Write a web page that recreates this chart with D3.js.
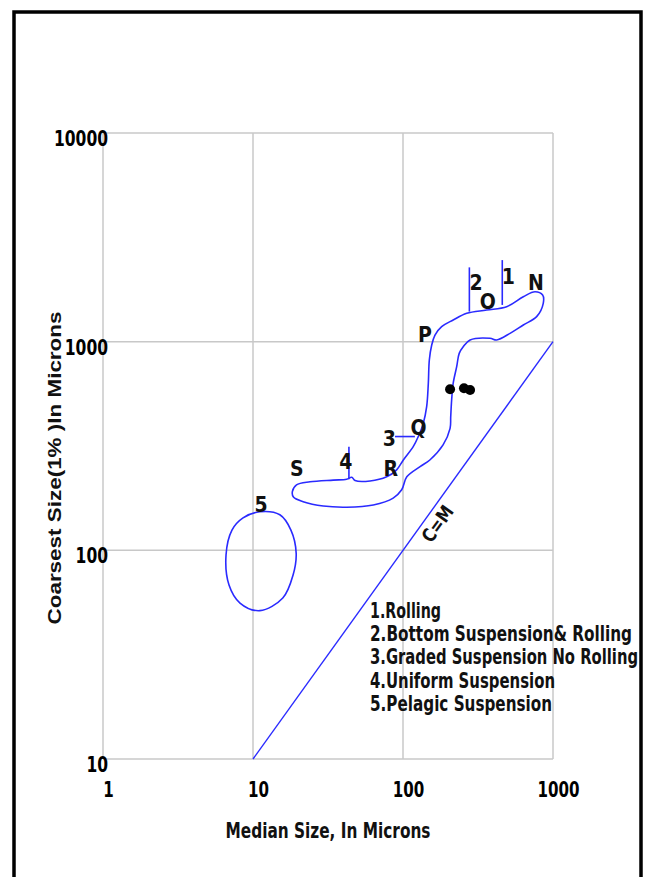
<!DOCTYPE html>
<html><head><meta charset="utf-8">
<script src="https://cdn.jsdelivr.net/npm/d3@7"></script>
<style>body{margin:0;background:#fff}svg{display:block}</style>
</head><body>
<svg id="c" width="650" height="877"></svg>
<script>
// ---- data ----
const xTicks = [1, 10, 100, 1000];
const yTicks = [10, 100, 1000, 10000];
const xTickLabels = ["1", "10", "100", "1000"];
const yTickLabels = ["10", "100", "1000", "10000"];

// N-O-P-Q-R-S envelope (median, coarsest), closed loop
const envelopeMedian = [18.3,19.5,24.0,34.3,42.1,45.5,47.9,60.3,77.8,90.7,100.5,117,126.5,136.5,143.8,147.5,149.8,155.4,163.4,181,216,266,361,491,634,759,853,861,778,634,517,421,380,280,252,237,228,216,211,208,206,185,151,130,106,98,86,63.4,42.1,29.4,21.6,18.6];
const envelopeCoarsest = [191,206,213,217,219,224,216,215,225,243,271,314,351,406,488,631,817,964,1076,1180,1270,1368,1418,1471,1642,1735,1674,1527,1318,1202,1096,1019,1038,1019,946,879,759,631,525,437,384,320,271,252,225,195,178,165,161,163,171,180];

// zone 5 (pelagic suspension) loop
const pelagicMedian = [11.1,15.1,17.9,19.4,18.5,15.8,11.1,8.19,6.92,6.61,7.24,8.58];
const pelagicCoarsest = [153,148,125,97,76.2,59.1,51.4,55.9,68.2,95,125,143];

// C = M line
const cmMedian = [10, 1000];
const cmCoarsest = [10, 1000];

// sample points
const sampleMedian = [206, 255, 280];
const sampleCoarsest = [591, 598, 587];

// zone boundary ticks 1..4
const boundaryNames = ["1", "2", "3", "4"];
const boundaryMedian0 = [459, 277, 88.4, 43.6];
const boundaryMedian1 = [459, 277, 120, 43.6];
const boundaryCoarsest0 = [2460, 2270, 351, 314];
const boundaryCoarsest1 = [1500, 1393, 351, 219];

// point labels
const pointLabels = ["N","O","P","Q","R","S","1","2","3","4","5"];
const pointLabelMedian = [770,367,140,127,82.8,19.6,504,307,81,41.5,11.3];
const pointLabelCoarsest = [1910,1555,1076,386,247,247,2048,1910,344,266,165];

const legendItems = ["1.Rolling","2.Bottom Suspension& Rolling","3.Graded Suspension No Rolling","4.Uniform Suspension","5.Pelagic Suspension"];
const legendWidths = [71, 262, 268, 185, 182];

const xTitle = "Median Size, In Microns";
const yTitle = "Coarsest Size(1% )In Microns";

// ---- drawing ----
const svg = d3.select("#c");
const narrow = "'Liberation Sans Narrow','DejaVu Sans Condensed',sans-serif";
const BLUE = "#2a2aff";

svg.append("rect").attr("x",14).attr("y",12).attr("width",627).attr("height",880)
  .attr("fill","none").attr("stroke","#000").attr("stroke-width",3.5);

const x = d3.scaleLog().domain([1,1000]).range([103,553]);
const y = d3.scaleLog().domain([10,10000]).range([759,133]);

// grid
const grid = svg.append("g").attr("stroke","#c8c8c8").attr("stroke-width",1.5);
grid.selectAll("line.v").data(xTicks).join("line")
  .attr("x1",d=>x(d)).attr("x2",d=>x(d)).attr("y1",y(10000)).attr("y2",y(10));
grid.selectAll("line.h").data(yTicks).join("line")
  .attr("y1",d=>y(d)).attr("y2",d=>y(d)).attr("x1",x(1)).attr("x2",x(1000));

// axes (labels only)
const xAxis = d3.axisBottom(x).tickValues(xTicks).tickFormat((d,i)=>xTickLabels[i]).tickSize(0).tickPadding(0);
const gx = svg.append("g").attr("transform","translate(5,797)").call(xAxis);
gx.select(".domain").remove();
gx.selectAll("text").attr("dy",0).attr("font-family",narrow).attr("font-weight","bold").attr("font-size",21).attr("fill","#000")
  .attr("textLength",(d,i)=>xTickLabels[i].length*10.5).attr("lengthAdjust","spacingAndGlyphs");

const yAxis = d3.axisLeft(y).tickValues(yTicks).tickFormat((d,i)=>yTickLabels[i]).tickSize(0).tickPadding(0);
const gy = svg.append("g").attr("transform","translate(108,5)").call(yAxis);
gy.select(".domain").remove();
gy.selectAll("text").attr("dy","0.35em").attr("font-family",narrow).attr("font-weight","bold").attr("font-size",21).attr("fill","#000")
  .attr("textLength",(d,i)=>yTickLabels[i].length*10.8).attr("lengthAdjust","spacingAndGlyphs");

// C=M line
const cmData = cmMedian.map((m,i)=>[m,cmCoarsest[i]]);
svg.append("path").datum(cmData)
  .attr("d", d3.line().x(d=>x(d[0])).y(d=>y(d[1])))
  .attr("fill","none").attr("stroke",BLUE).attr("stroke-width",1.4);
const ang = Math.atan2(y(1000)-y(10), x(1000)-x(10))*180/Math.PI;
svg.append("text").attr("transform",`translate(${x(170)},${y(134)}) rotate(${ang})`)
  .attr("text-anchor","middle").attr("dy","0.35em")
  .attr("textLength",40).attr("lengthAdjust","spacingAndGlyphs")
  .attr("font-family",narrow).attr("font-weight","bold").attr("font-size",19).attr("fill","#111").text("C=M");

// envelope
const closed = d3.line().x(d=>x(d[0])).y(d=>y(d[1])).curve(d3.curveCatmullRomClosed.alpha(0.5));
svg.append("path").datum(envelopeMedian.map((m,i)=>[m,envelopeCoarsest[i]]))
  .attr("d",closed).attr("fill","none").attr("stroke",BLUE).attr("stroke-width",1.6);
svg.append("path").datum(pelagicMedian.map((m,i)=>[m,pelagicCoarsest[i]]))
  .attr("d",closed).attr("fill","none").attr("stroke",BLUE).attr("stroke-width",1.6);

// boundary ticks
svg.append("g").selectAll("line").data(boundaryNames).join("line")
  .attr("x1",(d,i)=>x(boundaryMedian0[i])).attr("x2",(d,i)=>x(boundaryMedian1[i]))
  .attr("y1",(d,i)=>y(boundaryCoarsest0[i])).attr("y2",(d,i)=>y(boundaryCoarsest1[i]))
  .attr("stroke",BLUE).attr("stroke-width",1.6);

// sample points
svg.append("g").selectAll("circle").data(sampleMedian).join("circle")
  .attr("cx",(d)=>x(d)).attr("cy",(d,i)=>y(sampleCoarsest[i])).attr("r",5).attr("fill","#000");

// point labels
svg.append("g").selectAll("text").data(pointLabels).join("text")
  .attr("x",(d,i)=>x(pointLabelMedian[i])).attr("y",(d,i)=>y(pointLabelCoarsest[i]))
  .attr("text-anchor","middle").attr("dy","0.35em")
  .attr("font-family",narrow).attr("font-weight","bold").attr("font-size",21).attr("fill","#111").text(d=>d);

// legend
svg.append("g").selectAll("text").data(legendItems).join("text")
  .attr("x",370).attr("y",(d,i)=>618+i*23.2)
  .attr("textLength",(d,i)=>legendWidths[i]).attr("lengthAdjust","spacingAndGlyphs")
  .attr("font-family",narrow).attr("font-weight","bold").attr("font-size",21).attr("fill","#111").text(d=>d);

// titles
svg.append("text").attr("x",328).attr("y",838).attr("text-anchor","middle")
  .attr("textLength",205).attr("lengthAdjust","spacingAndGlyphs")
  .attr("font-family",narrow).attr("font-weight","bold").attr("font-size",21).attr("fill","#111").text(xTitle);
svg.append("text").attr("transform","translate(61,468) rotate(-90)").attr("text-anchor","middle")
  .attr("textLength",313).attr("lengthAdjust","spacingAndGlyphs")
  .attr("font-family","'Liberation Sans',Arial,sans-serif").attr("font-weight","bold").attr("font-size",18).attr("fill","#111").text(yTitle);
</script>
</body></html>
